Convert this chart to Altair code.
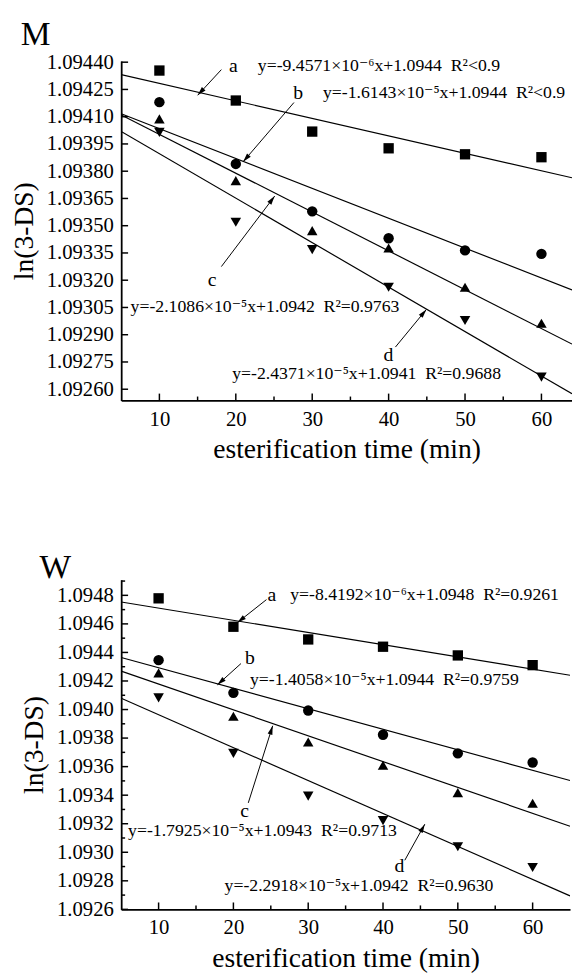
import math
import altair as alt
import pandas as pd

FONT = "Liberation Serif, DejaVu Serif, serif"

times = [10, 20, 30, 40, 50, 60]
series = ["a", "b", "c", "d"]
shapes = ["square", "circle", "triangle-up", "triangle-down"]
sizes = [110, 115, 135, 135]

# ---- panel M values ----
m_a = [1.094354, 1.094189, 1.094018, 1.093926, 1.093893, 1.093877]
m_b = [1.094180, 1.093840, 1.093579, 1.093431, 1.093364, 1.093345]
m_c = [1.094088, 1.093748, 1.093473, 1.093377, 1.093161, 1.092963]
m_d = [1.094014, 1.093519, 1.093368, 1.093161, 1.092978, 1.092667]

# ---- panel W values ----
w_a = [1.094779, 1.094580, 1.094491, 1.094440, 1.094379, 1.094311]
w_b = [1.094346, 1.094117, 1.093993, 1.093823, 1.093693, 1.093629]
w_c = [1.094257, 1.093953, 1.093773, 1.093610, 1.093418, 1.093343]
w_d = [1.094082, 1.093693, 1.093393, 1.093222, 1.093039, 1.092893]

# ---- axes ----
x_major = [10, 20, 30, 40, 50, 60]
x_minor = [15, 25, 35, 45, 55]
m_y_major = [1.09260, 1.09275, 1.09290, 1.09305, 1.09320, 1.09335, 1.09350,
             1.09365, 1.09380, 1.09395, 1.09410, 1.09425, 1.09440]
w_y_major = [1.0926, 1.0928, 1.0930, 1.0932, 1.0934, 1.0936, 1.0938,
             1.0940, 1.0942, 1.0944, 1.0946, 1.0948]
w_y_minor = [1.0927, 1.0929, 1.0931, 1.0933, 1.0935, 1.0937, 1.0939,
             1.0941, 1.0943, 1.0945, 1.0947, 1.0949]

# ---- annotations M ----
m_eq_text = ["y=-9.4571×10⁻⁶x+1.0944\u00a0\u00a0R²<0.9",
             "y=-1.6143×10⁻⁵x+1.0944\u00a0\u00a0R²<0.9",
             "y=-2.1086×10⁻⁵x+1.0942\u00a0\u00a0R²=0.9763",
             "y=-2.4371×10⁻⁵x+1.0941\u00a0\u00a0R²=0.9688"]
m_eq_t = [22.88, 31.41, 6.23, 19.53]
m_eq_v = [1.094377, 1.094229, 1.093054, 1.092682]
m_lbl_t = [19.67, 28.15, 16.91, 39.96]
m_lbl_v = [1.094377, 1.094229, 1.093202, 1.092790]
m_arr_t = [18.11, 27.61, 18.11, 40.89]
m_arr_v = [1.094359, 1.094178, 1.093275, 1.092832]
m_arr_t2 = [15.01, 20.96, 25.09, 44.94]
m_arr_v2 = [1.094218, 1.093852, 1.093663, 1.093039]

# ---- annotations W ----
w_eq_text = ["y=-8.4192×10⁻⁶x+1.0948\u00a0\u00a0R²=0.9261",
             "y=-1.4058×10⁻⁵x+1.0944\u00a0\u00a0R²=0.9759",
             "y=-1.7925×10⁻⁵x+1.0943\u00a0\u00a0R²=0.9713",
             "y=-2.2918×10⁻⁵x+1.0942\u00a0\u00a0R²=0.9630"]
w_eq_t = [27.59, 22.22, 5.92, 18.82]
w_eq_v = [1.0948, 1.094203, 1.093147, 1.092765]
w_lbl_t = [25.14, 22.22, 21.5, 42.18]
w_lbl_v = [1.0948, 1.094363, 1.093289, 1.092903]
w_arr_t = [24.42, 21.01, 21.99, 42.91]
w_arr_v = [1.094770, 1.094322, 1.093346, 1.092944]
w_arr_t2 = [20.53, 17.86, 25.25, 45.59]
w_arr_v2 = [1.094609, 1.094173, 1.093886, 1.093197]


def panel(vals, eq_text, eq_t, eq_v, lbl_t, lbl_v, at, av, at2, av2,
          y_major, y_minor, ydom, xdom, fmt, W, H, name, name_dx, name_dy):
    rows = []
    for s, arr in zip(series, vals):
        for t, v in zip(times, arr):
            rows.append({"s": s, "t": t, "v": v})
    df = pd.DataFrame(rows)

    xs = alt.Scale(domain=xdom, nice=False, zero=False)
    ys = alt.Scale(domain=ydom, nice=False, zero=False)
    xaxis = alt.Axis(values=x_major, format="d", ticks=False, grid=False,
                     labelFlush=False, labelOverlap=False, labelPadding=8,
                     titlePadding=7)
    yaxis = alt.Axis(values=y_major, format=fmt, ticks=False, grid=False,
                     labelFlush=False, labelOverlap=False, labelPadding=8,
                     titlePadding=8)
    XT = "esterification time (min)"
    YT = "ln(3-DS)"

    def X(f):
        return alt.X(f"{f}:Q", scale=xs, axis=xaxis, title=XT)

    def Y(f):
        return alt.Y(f"{f}:Q", scale=ys, axis=yaxis, title=YT)

    pts = alt.Chart(df).mark_point(filled=True, opacity=1, color="black").encode(
        x=X("t"), y=Y("v"),
        shape=alt.Shape("s:N", scale=alt.Scale(domain=series, range=shapes), legend=None),
        size=alt.Size("s:N", scale=alt.Scale(domain=series, range=sizes), legend=None),
    )
    fit = alt.Chart(df).transform_regression(
        "t", "v", groupby=["s"], extent=xdom
    ).mark_line(color="black", strokeWidth=1.2, clip=True).encode(
        x=X("t"), y=Y("v"), detail="s:N"
    )

    eq_df = pd.DataFrame({"t": eq_t, "v": eq_v, "txt": eq_text})
    eqs = alt.Chart(eq_df).mark_text(align="left", baseline="middle", font=FONT,
                                     fontSize=18, color="black").encode(
        x=X("t"), y=Y("v"), text="txt:N")
    lbl_df = pd.DataFrame({"t": lbl_t, "v": lbl_v, "txt": series})
    lbls = alt.Chart(lbl_df).mark_text(align="center", baseline="middle", font=FONT,
                                       fontSize=20, color="black").encode(
        x=X("t"), y=Y("v"), text="txt:N")

    ppt = W / (xdom[1] - xdom[0])
    ppv = H / (ydom[1] - ydom[0])
    arows = []
    for a, b, c, d in zip(at, av, at2, av2):
        dx = (c - a) * ppt
        dy = -(d - b) * ppv
        ang = math.degrees(math.atan2(dx, -dy)) % 360
        arows.append({"t": a, "v": b, "t2": c, "v2": d, "ang": ang})
    adf = pd.DataFrame(arows)
    shafts = alt.Chart(adf).mark_rule(color="black", strokeWidth=1).encode(
        x=X("t"), y=Y("v"), x2=alt.X2("t2:Q"), y2=alt.Y2("v2:Q"))
    heads = alt.Chart(adf).mark_point(shape="M0,0L-1,3.6L1,3.6Z", filled=True,
                                      opacity=1, color="black", size=25).encode(
        x=X("t2"), y=Y("v2"), angle=alt.Angle("ang:Q", scale=None))

    ytick = alt.Chart(pd.DataFrame({"v": y_major})).mark_rule(
        color="black", strokeWidth=1.5).encode(y=Y("v"), x=alt.value(0), x2=alt.value(7))
    xtick = alt.Chart(pd.DataFrame({"t": x_major})).mark_rule(
        color="black", strokeWidth=1.5).encode(x=X("t"), y=alt.value(H), y2=alt.value(H - 7))
    xtick2 = alt.Chart(pd.DataFrame({"t": x_minor})).mark_rule(
        color="black", strokeWidth=1.5).encode(x=X("t"), y=alt.value(H), y2=alt.value(H - 4))
    tag = alt.Chart(pd.DataFrame({"txt": [name]})).mark_text(
        align="left", baseline="alphabetic", font=FONT, fontSize=34, color="black"
    ).encode(x=alt.value(name_dx), y=alt.value(name_dy), text="txt:N")
    layers = [fit, shafts, heads, pts, eqs, lbls, ytick, xtick, xtick2, tag]
    if y_minor:
        ytick2 = alt.Chart(pd.DataFrame({"v": y_minor})).mark_rule(
            color="black", strokeWidth=1.5).encode(y=Y("v"), x=alt.value(0), x2=alt.value(4))
        layers.append(ytick2)

    return alt.layer(*layers).properties(width=W, height=H)


top = panel([m_a, m_b, m_c, m_d], m_eq_text, m_eq_t, m_eq_v, m_lbl_t, m_lbl_v,
            m_arr_t, m_arr_v, m_arr_t2, m_arr_v2, m_y_major, None,
            [1.092538, 1.094407], [5, 64], ".5f", 458, 345, "M", -102, -16)
bot = panel([w_a, w_b, w_c, w_d], w_eq_text, w_eq_t, w_eq_v, w_lbl_t, w_lbl_v,
            w_arr_t, w_arr_v, w_arr_t2, w_arr_v2, w_y_major, w_y_minor,
            [1.0926, 1.09491], [5, 65], ".4f", 456, 335, "W", -83, -2)

chart = alt.vconcat(top, bot, spacing=89).properties(
    padding={"left": 2, "top": 3, "right": 0, "bottom": 0}
).configure_view(strokeWidth=0).configure_axis(
    domainColor="black", domainWidth=1.8,
    labelFont=FONT, labelFontSize=21, labelColor="black",
    titleFont=FONT, titleFontSize=28, titleFontWeight="normal", titleColor="black",
)

chart.save("out.html", embed_options={"renderer": "svg", "actions": False})
